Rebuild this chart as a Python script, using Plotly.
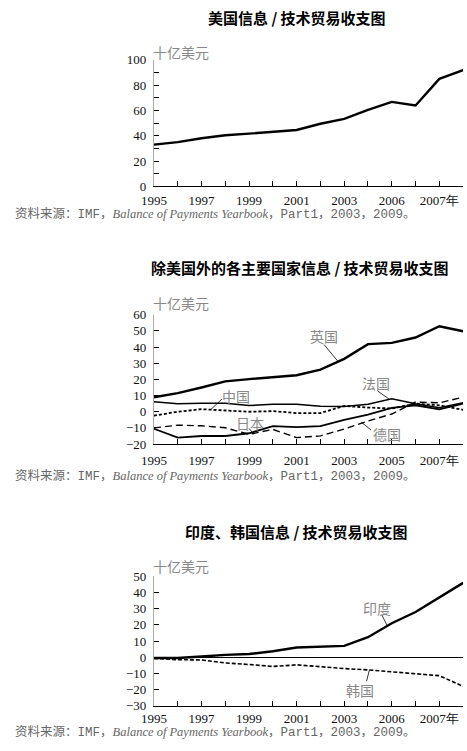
import plotly.graph_objects as go

years = list(range(1995, 2009))

# Chart 1: US
us = [33, 35, 38, 40.4, 41.7, 43, 44.6, 49.5, 53.4, 60.4, 66.8, 64, 85, 92]

# Chart 2: other major countries
uk = [9, 11.5, 15, 18.8, 20.2, 21.4, 22.6, 26, 32.7, 41.8, 42.6, 45.9, 52.9, 49.8]
france = [6.2, 5, 5.2, 5.2, 3.8, 4.6, 4.6, 3.4, 3.2, 4.6, 8.0, 5.0, 2.5, 5.5]
china = [-2.4, 0, 1.6, 0.6, 0, 0.4, -0.8, -0.8, 3.6, 2.6, 2, 5.0, 4.0, 1.2]
japan = [-10.5, -16, -15, -15, -13.3, -8.9, -9.5, -8.9, -5, -1.8, 2.4, 4.0, 1.5, 5.0]
germany = [-10, -8.3, -8.7, -9.9, -14, -10.9, -16, -14.9, -10.7, -5.7, -1.4, 6.0, 5.5, 9.0]

# Chart 3: India, Korea
india = [-0.5, -0.5, 0.5, 1.5, 2, 3.7, 6, 6.5, 7, 12.4, 21, 28, 37, 46]
korea = [-0.7, -1.5, -1.7, -3.5, -4.5, -5.7, -4.7, -6, -7, -7.8, -8.8, -10.2, -11.4, -18]

ticktext_a = ["1995", "", "1997", "", "1999", "", "2001", "", "2003", "", "2006", "", "2007年", ""]
ticktext_b = ["1995", "", "1997", "", "1999", "", "2001", "", "2003", "", "2005", "", "2007年", ""]

titles = ["美国信息 / 技术贸易收支图",
          "除美国外的各主要国家信息 / 技术贸易收支图",
          "印度、韩国信息 / 技术贸易收支图"]
unit_label = "十亿美元"
MONO = "<span style='font-family:Liberation Mono'>%s</span>"
source = ("资料来源：" + MONO % "IMF" + "，<i>Balance of Payments Yearbook</i>，"
          + MONO % "Part1" + "，" + MONO % "2003" + "，" + MONO % "2009" + "。")

W, H = 467, 751
def py(p):
    return 1 - p / H
def px(p):
    return p / W

fig = go.Figure()

fig.add_trace(go.Scatter(x=years, y=us, mode="lines", line=dict(color="black", width=2.4),
                         xaxis="x", yaxis="y", showlegend=False))

fig.add_trace(go.Scatter(x=years, y=uk, mode="lines", line=dict(color="black", width=2.4),
                         xaxis="x2", yaxis="y2", showlegend=False))
fig.add_trace(go.Scatter(x=years, y=france, mode="lines", line=dict(color="black", width=1.5),
                         xaxis="x2", yaxis="y2", showlegend=False))
fig.add_trace(go.Scatter(x=years, y=china, mode="lines", line=dict(color="black", width=1.8, dash="3px,2px"),
                         xaxis="x2", yaxis="y2", showlegend=False))
fig.add_trace(go.Scatter(x=years, y=japan, mode="lines", line=dict(color="black", width=1.8),
                         xaxis="x2", yaxis="y2", showlegend=False))
fig.add_trace(go.Scatter(x=years, y=germany, mode="lines", line=dict(color="black", width=1.4, dash="7px,4px"),
                         xaxis="x2", yaxis="y2", showlegend=False))

fig.add_trace(go.Scatter(x=years, y=india, mode="lines", line=dict(color="black", width=2.4),
                         xaxis="x3", yaxis="y3", showlegend=False))
fig.add_trace(go.Scatter(x=years, y=korea, mode="lines", line=dict(color="black", width=1.6, dash="4px,2px"),
                         xaxis="x3", yaxis="y3", showlegend=False))

tickfont = dict(family="Liberation Serif", size=13, color="#111")

def xaxis(ydom_anchor, ticktext, standoff):
    return dict(range=[1995, 2008], domain=[px(145), px(463)], anchor=ydom_anchor,
                tickvals=years, ticktext=ticktext, ticks="inside", ticklen=5, tickwidth=1,
                tickcolor="black", showline=True, linecolor="black", linewidth=1,
                showgrid=False, zeroline=False, tickfont=tickfont, ticklabelstandoff=standoff,
                fixedrange=True)

def yaxis(xanchor, rng, dom, dtick, minor=None, zeroline=False):
    d = dict(range=rng, domain=dom, anchor=xanchor, dtick=dtick, tick0=0,
             ticks="inside", ticklen=5, tickwidth=1, tickcolor="black",
             showline=True, linecolor="#aaa", linewidth=1, showgrid=False,
             zeroline=zeroline, zerolinecolor="black", zerolinewidth=1,
             tickfont=tickfont, ticklabelstandoff=4, fixedrange=True)
    if minor:
        d["minor"] = dict(dtick=minor, tick0=0, ticks="inside", ticklen=5, tickcolor="black", showgrid=False)
    return d

fig.update_layout(
    width=W, height=H, margin=dict(l=0, r=0, t=0, b=0),
    paper_bgcolor="white", plot_bgcolor="white",
    xaxis=xaxis("y", ticktext_a, 2),
    yaxis=yaxis("x", [0, 100], [py(183), py(54)], 20, minor=10),
    xaxis2=xaxis("y2", ticktext_b, 4),
    yaxis2=yaxis("x2", [-20, 60], [py(446), py(314)], 10),
    xaxis3=xaxis("y3", ticktext_a, 1),
    yaxis3=yaxis("x3", [-30, 50], [py(713), py(581)], 10, zeroline=True),
)

ann = []
title_pos = [(291.7, 11), (295, 266), (291.7, 535)]
unit_pos = [46, 302, 570]
source_pos = [212, 479, 740]
for t, (tx, ty) in zip(titles, title_pos):
    ann.append(dict(text="<b>" + t + "</b>", x=px(tx), y=py(ty), xref="paper", yref="paper",
                    xanchor="center", yanchor="middle", showarrow=False,
                    font=dict(family="Noto Sans CJK SC", size=15, color="black")))
for uy in unit_pos:
    ann.append(dict(text=unit_label, x=px(142), y=py(uy), xref="paper", yref="paper",
                    xanchor="left", yanchor="middle", showarrow=False,
                    font=dict(family="Noto Sans CJK SC", size=14, color="#888")))
for sy in source_pos:
    ann.append(dict(text=source, x=0, y=py(sy), xref="paper", yref="paper",
                    xanchor="left", yanchor="middle", showarrow=False,
                    font=dict(family="Liberation Serif, Noto Sans CJK SC", size=12.5, color="#666")))

label_font = dict(family="Noto Sans CJK SC", size=14, color="#888")
labels = [
    ("英国", 2002.13, 47.0, "x2", "y2"),
    ("中国", 1998.43, 9.7, "x2", "y2"),
    ("法国", 2004.32, 17.6, "x2", "y2"),
    ("日本", 1999.05, -6.7, "x2", "y2"),
    ("德国", 2004.81, -13.9, "x2", "y2"),
    ("印度", 2004.37, 30.7, "x3", "y3"),
    ("韩国", 2003.66, -20.0, "x3", "y3"),
]
for txt, lx, ly, xr, yr in labels:
    ann.append(dict(text=txt, x=lx, y=ly, xref=xr, yref=yr, showarrow=False,
                    xanchor="center", yanchor="middle", font=label_font))
fig.update_layout(annotations=ann)

leaders = [
    (2002.15, 41.6, 2002.74, 31.1, "x2", "y2"),
    (1997.86, 7.9, 1997.4, 1.5, "x2", "y2"),
    (2004.40, 12.9, 2004.92, 7.5, "x2", "y2"),
    (1999.0, -10.3, 1999.2, -14.0, "x2", "y2"),
    (2004.13, -11.3, 2003.72, -6.5, "x2", "y2"),
    (2004.58, 26.2, 2004.81, 19.5, "x3", "y3"),
    (2003.94, -14.8, 2004.06, -7.8, "x3", "y3"),
]
shapes = []
for x0, y0, x1, y1, xr, yr in leaders:
    shapes.append(dict(type="line", x0=x0, y0=y0, x1=x1, y1=y1, xref=xr, yref=yr,
                       line=dict(color="black", width=0.8)))
fig.update_layout(shapes=shapes)

fig.write_html("out.html")
